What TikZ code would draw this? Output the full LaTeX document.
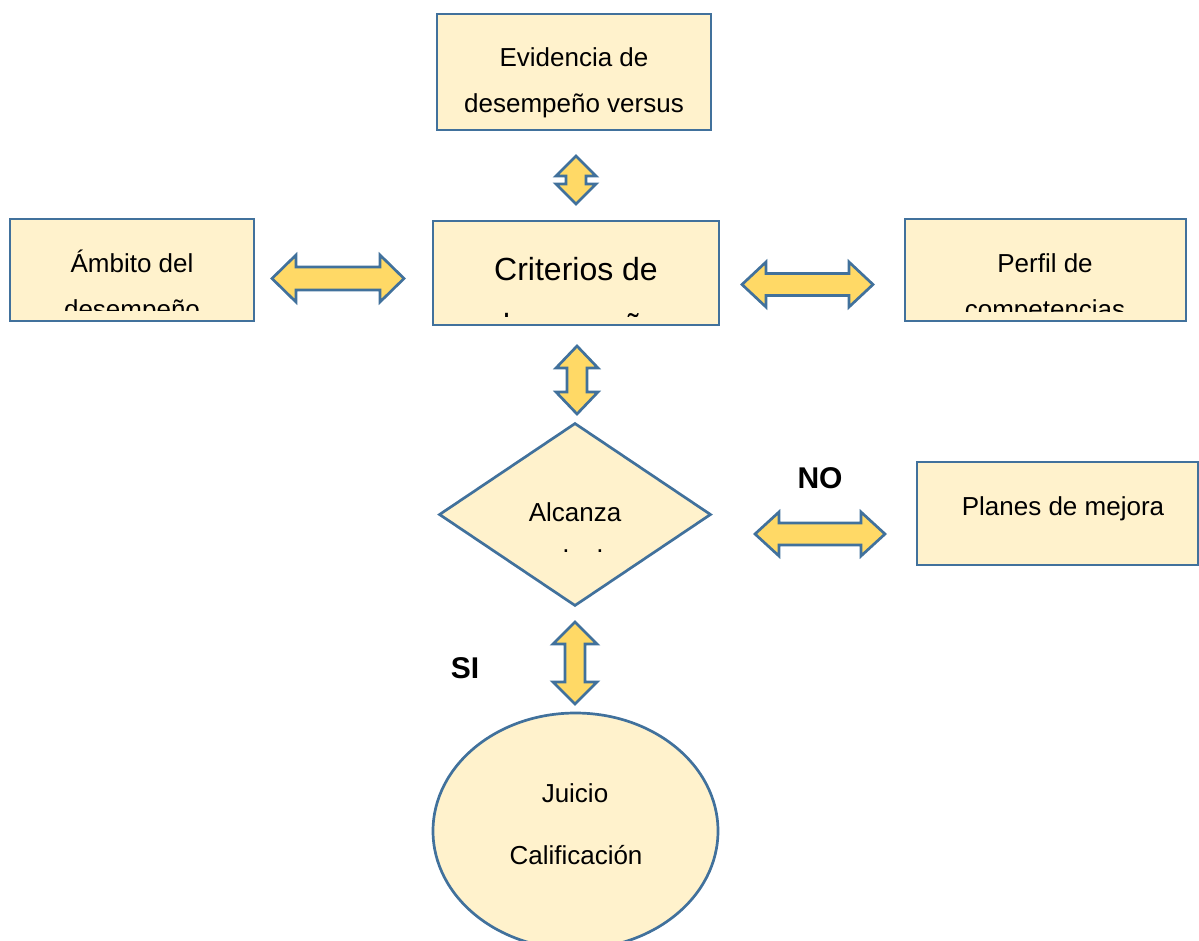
\documentclass[tikz,border=0pt]{standalone}
\usepackage{fontspec}
\setmainfont{Liberation Sans}
\usetikzlibrary{shapes.geometric}
\definecolor{bordblue}{RGB}{65,113,156}
\definecolor{boxfill}{RGB}{255,242,204}
\definecolor{arrfill}{RGB}{255,217,102}
\tikzset{
  box/.style={draw=bordblue, fill=boxfill, line width=2.7pt, inner sep=0pt},
  arr/.style={draw=bordblue, fill=arrfill, line width=2.7pt, line join=miter},
  txt/.style={anchor=base, inner sep=0pt, font=\fontsize{26}{46}\selectfont},
  bigtxt/.style={anchor=base, inner sep=0pt, font=\fontsize{32}{56}\selectfont},
  lbl/.style={anchor=base, inner sep=0pt, font=\fontsize{30}{36}\selectfont\bfseries},
}
% horizontal double arrow: x1, x2, y, head length, head half-height, shaft half-height
\newcommand{\hdblarrow}[6]{%
  \draw[arr] (#1,#3) -- ({#1+#4},{#3-#5}) -- ({#1+#4},{#3-#6}) -- ({#2-#4},{#3-#6})
    -- ({#2-#4},{#3-#5}) -- (#2,#3) -- ({#2-#4},{#3+#5}) -- ({#2-#4},{#3+#6})
    -- ({#1+#4},{#3+#6}) -- ({#1+#4},{#3+#5}) -- cycle;}
% vertical double arrow: y1, y2, x, head length, head half-width, shaft half-width
\newcommand{\vdblarrow}[6]{%
  \draw[arr] (#3,#1) -- ({#3+#5},{#1+#4}) -- ({#3+#6},{#1+#4}) -- ({#3+#6},{#2-#4})
    -- ({#3+#5},{#2-#4}) -- (#3,#2) -- ({#3-#5},{#2-#4}) -- ({#3-#6},{#2-#4})
    -- ({#3-#6},{#1+#4}) -- ({#3-#5},{#1+#4}) -- cycle;}
\begin{document}
\begin{tikzpicture}[x=1pt,y=-1pt]
\useasboundingbox (0,0) rectangle (1199,940);
\begin{scope}
\clip (0,0) rectangle (1199,940);
% boxes
\draw[box] (437,14) rectangle (711,130);
\draw[box] (10,219) rectangle (254,321);
\draw[box] (433,221) rectangle (719,325);
\draw[box] (905,219) rectangle (1186,321);
\draw[box] (917,462) rectangle (1198,565);
\node[box, diamond, minimum width=272pt, minimum height=183pt, aspect=1.486] (dec) at (575,514.5) {};
\node[box, ellipse, minimum width=285pt, minimum height=236pt] (jui) at (575.5,831) {};
% texts
\node[txt] (t1a) at (574,66) {Evidencia de};
\node[txt] (t1b) at (574,112) {desempeño versus};
\begin{scope}
\clip (12,221) rectangle (252,310);
\node[txt] (t2a) at (132,272) {Ámbito del};
\node[txt] (t2b) at (132,318) {desempeño};
\end{scope}
\begin{scope}
\clip (907,221) rectangle (1184,311);
\node[txt] (t3a) at (1045,272) {Perfil de};
\node[txt] (t3b) at (1045,318) {competencias};
\end{scope}
\begin{scope}
\clip (435,223) rectangle (717,316);
\node[bigtxt] (t4a) at (576,280) {Criterios de};
\node[bigtxt] (t4b) at (576,336) {desempeño};
\end{scope}
\node[txt] (t5) at (1063,515) {Planes de mejora};
\node[txt] (t6) at (575,521) {Alcanza};
\node[txt] (t6b) at (566,552) {.};
\node[txt] (t6c) at (600,552) {.};
\node[txt] (t7a) at (575,802) {Juicio};
\node[txt] (t7b) at (576,864) {Calificación};
\node[lbl] (no) at (820,488) {NO};
\node[lbl] (si) at (465,678) {SI};
% arrows
\vdblarrow{156}{204}{576}{20}{20}{10}
\hdblarrow{272}{404}{278.5}{24}{23.5}{11.5}
\hdblarrow{742}{873}{284.5}{24}{22.5}{11}
\vdblarrow{346}{414}{577}{22}{21}{10}
\hdblarrow{755}{885}{534}{24}{22}{11}
\vdblarrow{622}{704}{575}{22}{22}{10}
\end{scope}
\end{tikzpicture}
\end{document}
